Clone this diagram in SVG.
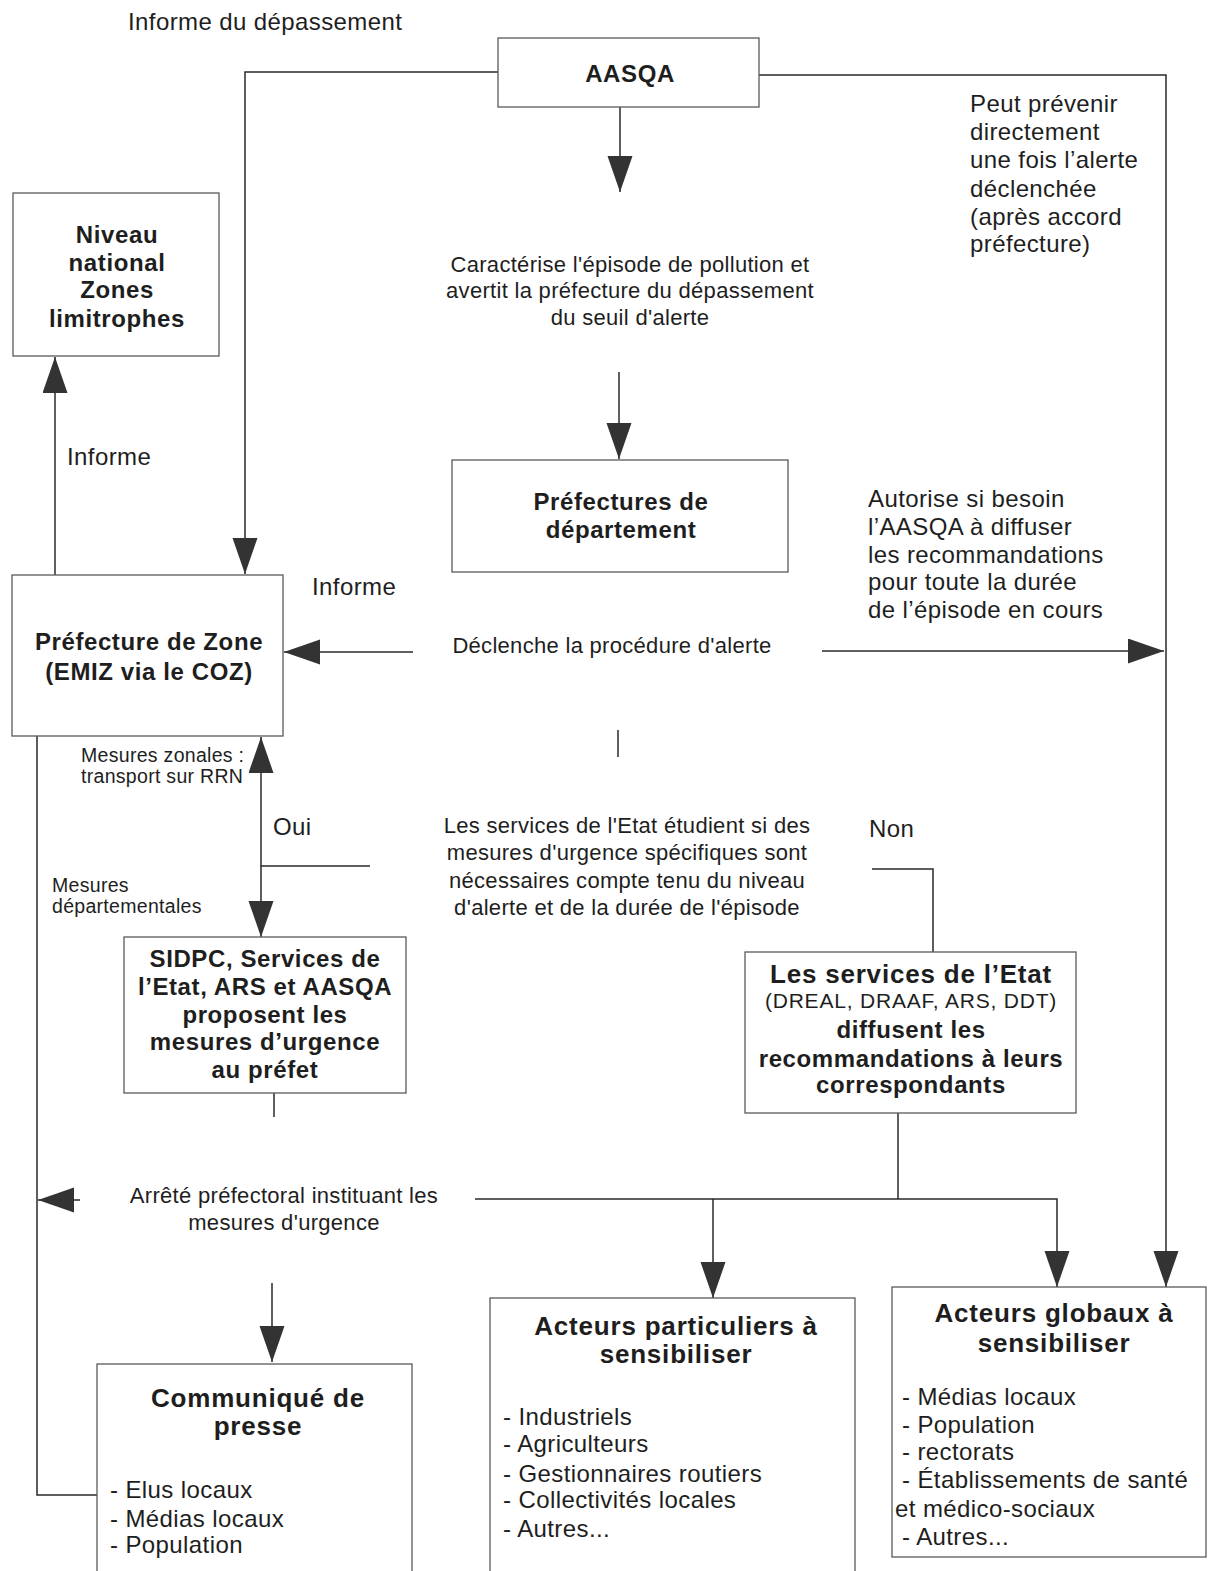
<svg xmlns="http://www.w3.org/2000/svg" width="1208" height="1571" viewBox="0 0 1208 1571">
<style>
.box{fill:#fff;stroke:#5a5a5a;stroke-width:1.3}
.ln{fill:none;stroke:#2a2a2a;stroke-width:1.5}
text{font-family:"Liberation Sans",Arial,sans-serif;fill:#1e1e1e}
.lg{font-size:24px;letter-spacing:0.4px}
.md{font-size:22px;letter-spacing:0.3px;text-anchor:middle}
.sm{font-size:19.5px;letter-spacing:0.3px}
.b{font-weight:bold;font-size:24px;letter-spacing:0.6px;text-anchor:middle}
.bt{font-weight:bold;font-size:26px;letter-spacing:0.8px;text-anchor:middle}
.rg{font-size:21px;letter-spacing:0.8px;text-anchor:middle}
</style>
<defs>
<marker id="ah" markerUnits="userSpaceOnUse" markerWidth="40" markerHeight="28" refX="36" refY="12.5" orient="auto">
<path d="M0,0 L36,12.5 L0,25 z" fill="#333"/>
</marker>
</defs>
<rect width="1208" height="1571" fill="#fff"/>

<g id="connectors">
<path class="ln" d="M498,72 H245 V574" marker-end="url(#ah)"/>
<path class="ln" d="M759,75 H1166 V1287" marker-end="url(#ah)"/>
<path class="ln" d="M620,107 V192" marker-end="url(#ah)"/>
<path class="ln" d="M619,372 V459" marker-end="url(#ah)"/>
<path class="ln" d="M55,575 V357" marker-end="url(#ah)"/>
<path class="ln" d="M413,652 H284" marker-end="url(#ah)"/>
<path class="ln" d="M822,651 H1164" marker-end="url(#ah)"/>
<path class="ln" d="M618,730 V757"/>
<path class="ln" d="M370,866 H261 V937" marker-end="url(#ah)"/>
<path class="ln" d="M261,866 V737" marker-end="url(#ah)"/>
<path class="ln" d="M872,869 H933 V952"/>
<path class="ln" d="M37,736 V1495 H97"/>
<path class="ln" d="M80,1200 H38" marker-end="url(#ah)"/>
<path class="ln" d="M274,1093 V1117"/>
<path class="ln" d="M272,1283 V1362" marker-end="url(#ah)"/>
<path class="ln" d="M898,1113 V1199"/>
<path class="ln" d="M475,1199 H1057 V1287" marker-end="url(#ah)"/>
<path class="ln" d="M713,1199 V1298" marker-end="url(#ah)"/>
</g>

<g id="labels">
<text class="lg" x="128" y="30">Informe du dépassement</text>
<text class="lg" x="970" y="112">Peut prévenir</text>
<text class="lg" x="970" y="140">directement</text>
<text class="lg" x="970" y="168">une fois l’alerte</text>
<text class="lg" x="970" y="197">déclenchée</text>
<text class="lg" x="970" y="225">(après accord</text>
<text class="lg" x="970" y="252">préfecture)</text>
<text class="md" x="630" y="272">Caractérise l'épisode de pollution et</text>
<text class="md" x="630" y="298">avertit la préfecture du dépassement</text>
<text class="md" x="630" y="325">du seuil d'alerte</text>
<text class="lg" x="67" y="465">Informe</text>
<text class="lg" x="312" y="595">Informe</text>
<text class="lg" x="868" y="507">Autorise si besoin</text>
<text class="lg" x="868" y="535">l’AASQA à diffuser</text>
<text class="lg" x="868" y="563">les recommandations</text>
<text class="lg" x="868" y="590">pour toute la durée</text>
<text class="lg" x="868" y="618">de l’épisode en cours</text>
<text class="md" x="612" y="653">Déclenche la procédure d'alerte</text>
<text class="sm" x="81" y="762">Mesures zonales :</text>
<text class="sm" x="81" y="783">transport sur RRN</text>
<text class="lg" x="273" y="835">Oui</text>
<text class="lg" x="869" y="837">Non</text>
<text class="md" x="627" y="833">Les services de l'Etat étudient si des</text>
<text class="md" x="627" y="860">mesures d'urgence spécifiques sont</text>
<text class="md" x="627" y="888">nécessaires compte tenu du niveau</text>
<text class="md" x="627" y="915">d'alerte et de la durée de l'épisode</text>
<text class="sm" x="52" y="892">Mesures</text>
<text class="sm" x="52" y="913">départementales</text>
<text class="md" x="284" y="1203">Arrêté préfectoral instituant les</text>
<text class="md" x="284" y="1230">mesures d'urgence</text>
</g>

<g id="aasqa">
<rect class="box" x="498" y="38" width="261" height="69"/>
<text class="b" x="630" y="82">AASQA</text>
</g>

<g id="niveau-national">
<rect class="box" x="13" y="193" width="206" height="163"/>
<text class="b" x="117" y="243">Niveau</text>
<text class="b" x="117" y="271">national</text>
<text class="b" x="117" y="298">Zones</text>
<text class="b" x="117" y="327">limitrophes</text>
</g>

<g id="prefectures-departement">
<rect class="box" x="452" y="460" width="336" height="112"/>
<text class="b" x="621" y="510">Préfectures de</text>
<text class="b" x="621" y="538">département</text>
</g>

<g id="prefecture-zone">
<rect class="box" x="12" y="575" width="271" height="161"/>
<text class="b" x="149" y="650">Préfecture de Zone</text>
<text class="b" x="149" y="680">(EMIZ via le COZ)</text>
</g>

<g id="sidpc">
<rect class="box" x="124" y="937" width="282" height="156"/>
<text class="b" x="265" y="967">SIDPC, Services de</text>
<text class="b" x="265" y="995">l’Etat, ARS et AASQA</text>
<text class="b" x="265" y="1023">proposent les</text>
<text class="b" x="265" y="1050">mesures d’urgence</text>
<text class="b" x="265" y="1078">au préfet</text>
</g>

<g id="services-etat">
<rect class="box" x="745" y="952" width="331" height="161"/>
<text class="bt" x="911" y="983">Les services de l’Etat</text>
<text class="rg" x="911" y="1008">(DREAL, DRAAF, ARS, DDT)</text>
<text class="b" x="911" y="1038">diffusent les</text>
<text class="b" x="911" y="1067">recommandations à leurs</text>
<text class="b" x="911" y="1093">correspondants</text>
</g>

<g id="communique">
<rect class="box" x="97" y="1364" width="315" height="220"/>
<text class="bt" x="258" y="1407">Communiqué de</text>
<text class="bt" x="258" y="1435">presse</text>
<text class="lg" x="110" y="1498">- Elus locaux</text>
<text class="lg" x="110" y="1527">- Médias locaux</text>
<text class="lg" x="110" y="1553">- Population</text>
</g>

<g id="acteurs-particuliers">
<rect class="box" x="490" y="1298" width="365" height="290"/>
<text class="bt" x="676" y="1335">Acteurs particuliers à</text>
<text class="bt" x="676" y="1363">sensibiliser</text>
<text class="lg" x="503" y="1425">- Industriels</text>
<text class="lg" x="503" y="1452">- Agriculteurs</text>
<text class="lg" x="503" y="1482">- Gestionnaires routiers</text>
<text class="lg" x="503" y="1508">- Collectivités locales</text>
<text class="lg" x="503" y="1537">- Autres...</text>
</g>

<g id="acteurs-globaux">
<rect class="box" x="892" y="1287" width="314" height="270"/>
<text class="bt" x="1054" y="1322">Acteurs globaux à</text>
<text class="bt" x="1054" y="1352">sensibiliser</text>
<text class="lg" x="902" y="1405">- Médias locaux</text>
<text class="lg" x="902" y="1433">- Population</text>
<text class="lg" x="902" y="1460">- rectorats</text>
<text class="lg" x="902" y="1488">- Établissements de santé</text>
<text class="lg" x="895" y="1517">et médico-sociaux</text>
<text class="lg" x="902" y="1545">- Autres...</text>
</g>
</svg>
